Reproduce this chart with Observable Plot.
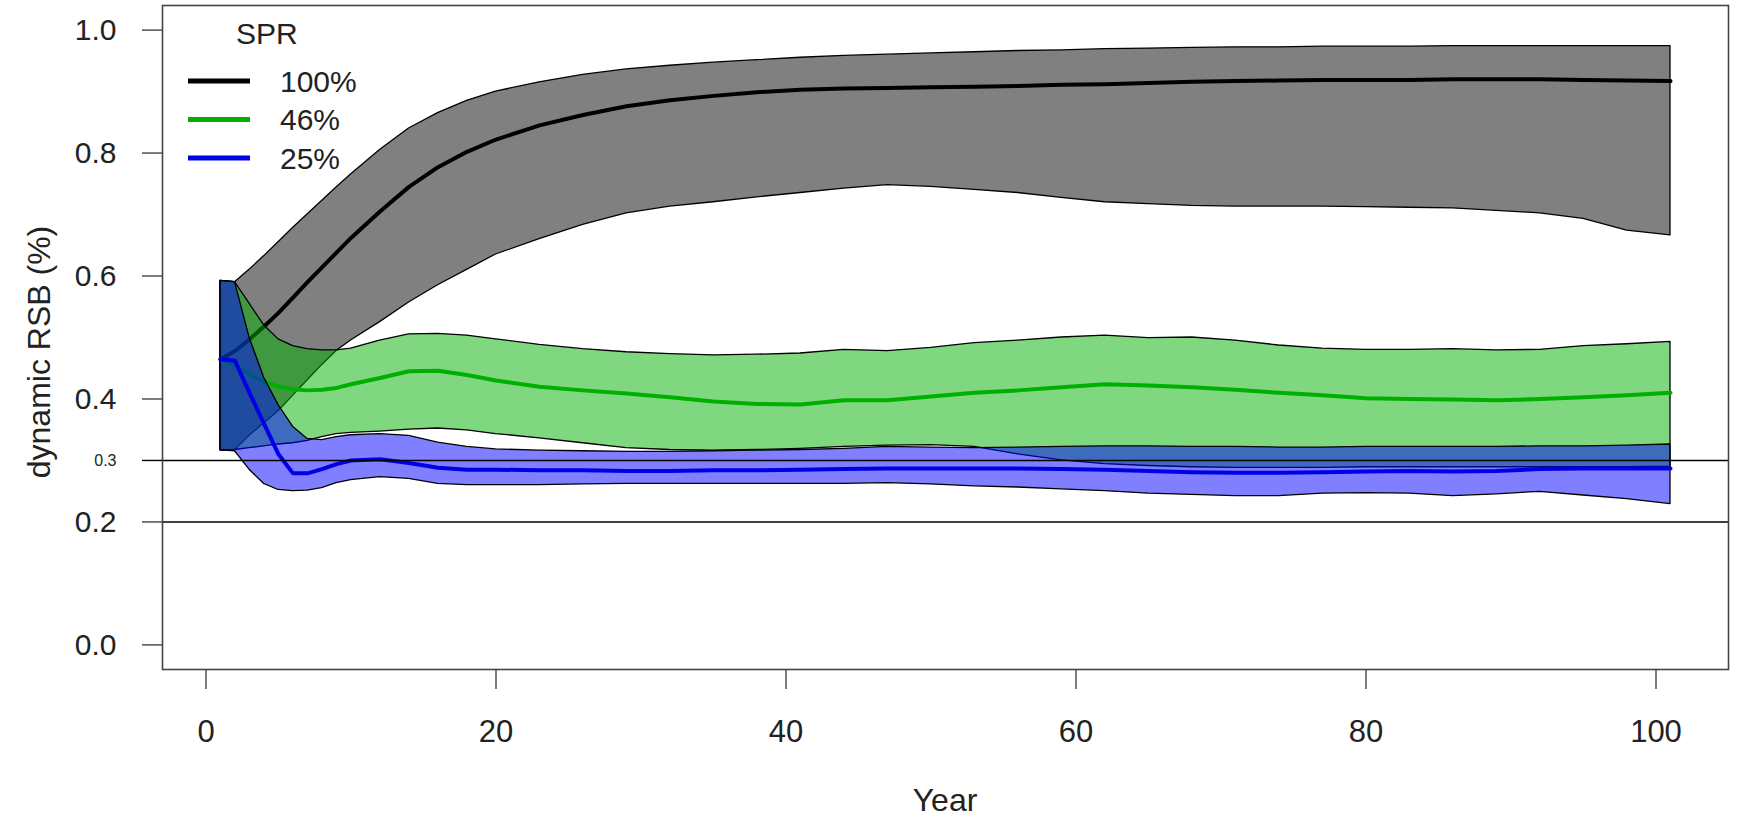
<!DOCTYPE html>
<html><head><meta charset="utf-8">
<script src="https://cdn.jsdelivr.net/npm/d3@7"></script>
<script src="https://cdn.jsdelivr.net/npm/@observablehq/plot@0.6"></script>
<style>html,body{margin:0;padding:0;background:#fff;} #chart{width:1737px;height:821px;}</style>
</head><body><div id="chart"></div>
<script>
// ---- data ----
const years = [1,2,3,4,5,6,7,8,9,10,12,14,16,18,20,23,26,29,32,35,38,41,44,47,50,53,56,59,62,65,68,71,74,77,80,83,86,89,92,95,98,101];

// SPR 100%
const upper100  = [0.592,0.59,0.61,0.632,0.655,0.678,0.70,0.722,0.744,0.765,0.805,0.84,0.865,0.885,0.9,0.915,0.927,0.936,0.942,0.947,0.951,0.955,0.958,0.96,0.962,0.964,0.966,0.967,0.969,0.97,0.971,0.972,0.972,0.973,0.973,0.973,0.974,0.974,0.974,0.974,0.974,0.974];
const median100 = [0.4645,0.478,0.497,0.518,0.54,0.565,0.59,0.614,0.638,0.662,0.705,0.745,0.777,0.802,0.822,0.845,0.862,0.876,0.886,0.893,0.899,0.903,0.905,0.906,0.907,0.908,0.909,0.911,0.912,0.914,0.916,0.917,0.918,0.919,0.919,0.919,0.92,0.92,0.92,0.919,0.918,0.917];
const lower100  = [0.3166,0.317,0.34,0.36,0.38,0.405,0.43,0.455,0.478,0.495,0.525,0.557,0.585,0.61,0.635,0.66,0.683,0.702,0.713,0.72,0.728,0.735,0.742,0.748,0.745,0.74,0.735,0.727,0.72,0.717,0.714,0.713,0.713,0.713,0.712,0.711,0.71,0.706,0.702,0.693,0.674,0.666];

// SPR 46%
const upper46  = [0.592,0.59,0.555,0.52,0.497,0.486,0.481,0.479,0.479,0.482,0.495,0.505,0.506,0.503,0.497,0.488,0.481,0.476,0.473,0.471,0.472,0.474,0.48,0.478,0.483,0.491,0.495,0.5,0.503,0.499,0.5,0.495,0.487,0.482,0.48,0.48,0.481,0.479,0.48,0.486,0.489,0.493];
const median46 = [0.4645,0.455,0.44,0.428,0.42,0.416,0.414,0.415,0.418,0.424,0.434,0.445,0.446,0.439,0.43,0.42,0.414,0.409,0.403,0.396,0.392,0.391,0.398,0.398,0.404,0.41,0.414,0.419,0.424,0.422,0.419,0.415,0.41,0.406,0.401,0.4,0.399,0.398,0.4,0.403,0.406,0.41];
const lower46  = [0.3166,0.317,0.32,0.323,0.326,0.328,0.332,0.338,0.343,0.345,0.347,0.35,0.352,0.349,0.343,0.336,0.328,0.32,0.317,0.316,0.317,0.319,0.322,0.324,0.325,0.322,0.31,0.3,0.294,0.291,0.289,0.288,0.288,0.288,0.289,0.289,0.289,0.289,0.289,0.289,0.289,0.29];

// SPR 25%
const upper25  = [0.592,0.59,0.5,0.435,0.39,0.355,0.335,0.333,0.338,0.341,0.343,0.34,0.329,0.322,0.318,0.316,0.315,0.314,0.314,0.315,0.316,0.317,0.319,0.322,0.321,0.32,0.321,0.322,0.323,0.323,0.322,0.322,0.321,0.321,0.322,0.322,0.322,0.322,0.323,0.323,0.324,0.326];
const median25 = [0.4645,0.462,0.41,0.36,0.31,0.279,0.279,0.286,0.294,0.3,0.302,0.296,0.288,0.285,0.285,0.284,0.284,0.283,0.283,0.284,0.284,0.285,0.286,0.287,0.287,0.287,0.287,0.286,0.285,0.283,0.281,0.28,0.28,0.281,0.282,0.283,0.282,0.283,0.286,0.287,0.287,0.287];
const lower25  = [0.3166,0.315,0.285,0.262,0.252,0.25,0.251,0.255,0.263,0.268,0.273,0.27,0.262,0.26,0.26,0.26,0.261,0.262,0.262,0.262,0.262,0.262,0.262,0.263,0.261,0.258,0.256,0.253,0.25,0.246,0.244,0.242,0.242,0.246,0.247,0.246,0.242,0.245,0.249,0.243,0.237,0.229];

const sprLabels = ["100%", "46%", "25%"];
const lineColors = ["#000000", "#00b000", "#0000e6"];
const fillColors = ["#808080", "#00b000", "#0000ff"];
const fillOpacities = [1, 0.5, 0.5];
const yTicks = [0, 0.2, 0.4, 0.6, 0.8, 1.0];
const xTicks = [0, 20, 40, 60, 80, 100];
const refLines = [0.2, 0.3];

// ---- build ----
const rows = (lo, med, hi) => years.map((year, i) => ({year, lo: lo[i], med: med[i], hi: hi[i]}));
const seriesData = [rows(lower100, median100, upper100), rows(lower46, median46, upper46), rows(lower25, median25, upper25)];

const font = "'Liberation Sans', Arial, Helvetica, sans-serif";
const FS = 30;
const marks = [];
seriesData.forEach((d, i) => {
  marks.push(Plot.areaY(d, {x: "year", y1: "lo", y2: "hi", fill: fillColors[i], fillOpacity: fillOpacities[i], stroke: "#000", strokeWidth: 1.3}));
  marks.push(Plot.line(d, {x: "year", y: "med", stroke: lineColors[i], strokeWidth: 4}));
});
marks.push(Plot.ruleY(refLines, {stroke: "#000", strokeWidth: 1.4}));
marks.push(Plot.frame({stroke: "#444", strokeWidth: 1.6}));
marks.push(Plot.axisY(yTicks, {anchor: "left", tickSize: 20, tickPadding: 26, fontSize: FS, tickFormat: d3.format(".1f"), stroke: "#444", strokeWidth: 1.4, label: null}));
marks.push(Plot.axisY([0.3], {anchor: "left", tickSize: 20, tickPadding: 26, fontSize: 16, tickFormat: d3.format(".1f"), stroke: "#000", strokeWidth: 1.4, label: null}));
marks.push(Plot.axisX(xTicks, {anchor: "bottom", tickSize: 20, tickPadding: 30, fontSize: 31, stroke: "#444", strokeWidth: 1.4, label: null}));

const chart = Plot.plot({
  width: 1737,
  height: 821,
  marginLeft: 162,
  marginRight: 9,
  marginTop: 5,
  marginBottom: 152,
  x: {domain: [-3, 105], axis: null},
  y: {domain: [-0.04, 1.04], axis: null},
  style: {fontFamily: font, background: "white", color: "#222", overflow: "visible"},
  marks
});
document.getElementById("chart").appendChild(chart);

// ---- axis titles and legend ----
const svg = d3.select(chart);
const g = svg.append("g").attr("font-family", font).attr("font-size", FS).attr("fill", "#222");
g.append("text").attr("transform", "translate(39,352) rotate(-90)").attr("font-size", 32)
  .attr("text-anchor", "middle").attr("dy", "0.35em").text("dynamic RSB (%)");
g.append("text").attr("x", 945).attr("y", 800).attr("font-size", 32)
  .attr("text-anchor", "middle").attr("dy", "0.35em").text("Year");

g.append("text").attr("x", 236).attr("y", 33).attr("dy", "0.35em").attr("text-anchor", "start").text("SPR");
sprLabels.forEach((lab, i) => {
  const y = 81 + i * 38.5;
  g.append("line").attr("x1", 188).attr("x2", 250).attr("y1", y).attr("y2", y)
    .attr("stroke", lineColors[i]).attr("stroke-width", 5);
  g.append("text").attr("x", 280).attr("y", y).attr("dy", "0.35em").attr("text-anchor", "start").text(lab);
});
</script></body></html>
